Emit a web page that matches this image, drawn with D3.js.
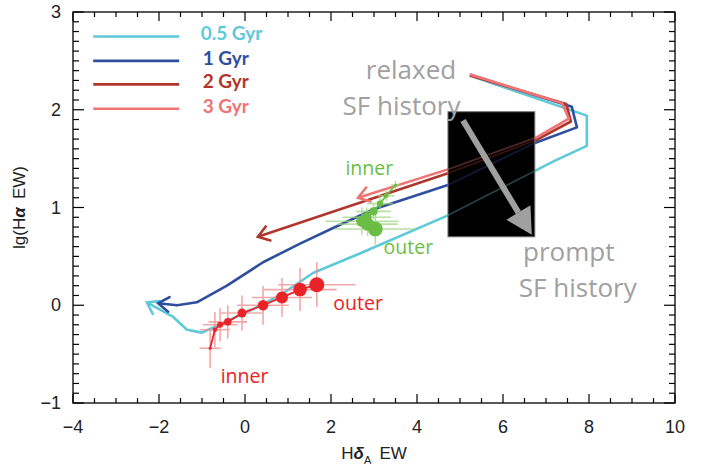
<!DOCTYPE html>
<html>
<head>
<meta charset="utf-8">
<script src="https://cdn.jsdelivr.net/npm/d3@7"></script>
<style>
  body { margin: 0; background: #fff; }
  svg { display: block; }
</style>
</head>
<body>
<div id="chart-area"></div>
<script>
// model tracks: [HdA EW, lg(Ha EW)], start at top right, end at the arrow
const track05 = [[5.23, 2.35], [7.95, 1.94], [7.95, 1.63], [7.21, 1.48], [4.72, 0.92], [2.67, 0.53],
  [1.58, 0.33], [0.81, 0.10], [0.05, -0.07], [-0.51, -0.18], [-1.0, -0.28], [-1.35, -0.25],
  [-1.67, -0.12], [-2.28, 0.03]]
const track1 = [[5.23, 2.36], [7.60, 2.03], [7.72, 1.82], [6.74, 1.66], [4.72, 1.23], [2.98, 0.98],
  [2.05, 0.79], [1.28, 0.63], [0.42, 0.44], [-0.42, 0.20], [-1.12, 0.03], [-1.58, 0.0], [-2.02, 0.02]]
const track2 = [[5.23, 2.35], [7.47, 2.06], [7.58, 1.88], [6.77, 1.69], [4.72, 1.35], [0.30, 0.70]]
const track3 = [[5.23, 2.36], [7.37, 2.07], [7.53, 1.91], [6.79, 1.72], [4.72, 1.39], [2.63, 1.10]]

const legendNames = ["0.5 Gyr", "1 Gyr", "2 Gyr", "3 Gyr"]

// green galaxy, inner -> outer
const greenX = [3.50, 3.28, 3.14, 2.99, 2.83, 2.72, 2.85, 3.03]
const greenY = [1.23, 1.12, 1.04, 0.96, 0.90, 0.86, 0.83, 0.78]
const greenXErr = [0.1, 0.2, 0.3, 0.4, 0.56, 0.85, 0.7, 0.95]
const greenYErr = [0.04, 0.05, 0.06, 0.08, 0.1, 0.14, 0.12, 0.16]

// red galaxy, inner -> outer
const redX = [-0.81, -0.70, -0.58, -0.40, -0.07, 0.42, 0.86, 1.28, 1.67]
const redY = [-0.44, -0.25, -0.20, -0.17, -0.08, 0.00, 0.08, 0.16, 0.21]
const redXErr = [0.25, 0.35, 0.4, 0.45, 0.5, 0.6, 0.7, 0.85, 0.9]
const redYErr = [0.2, 0.18, 0.17, 0.17, 0.18, 0.2, 0.2, 0.22, 0.23]

// blacked-out box and gray arrow (data coords)
const boxX = [4.72, 6.74], boxY = [0.70, 1.98]
const sfArrow = [[5.07, 1.89], [6.67, 0.72]]

const xTicks = [-4, -2, 0, 2, 4, 6, 8, 10]
const yTicks = [-1, 0, 1, 2, 3]

const colors = ["#5ec9d9", "#2f4e9e", "#b0362d", "#ef7474"]
const tracks = [track05, track1, track2, track3]

const margin = { top: 12, right: 27, bottom: 66, left: 73 }
const width = 702 - margin.left - margin.right,
      height = 469 - margin.top - margin.bottom

const svg = d3.select("#chart-area").append("svg")
    .attr("width", 702)
    .attr("height", 469)
const g = svg.append("g")
    .attr("transform", "translate(" + margin.left + "," + margin.top + ")")

const x = d3.scaleLinear().domain([-4, 10]).range([0, width])
const y = d3.scaleLinear().domain([-1, 3]).range([height, 0])

const line = d3.line().x(d => x(d[0])).y(d => y(d[1]))

g.append("clipPath").attr("id", "plot-clip")
  .append("rect").attr("width", width).attr("height", height)

const plot = g.append("g").attr("clip-path", "url(#plot-clip)")

// open chevron at the end of a track
function chevron(pts) {
    const a = pts[pts.length - 2], b = pts[pts.length - 1]
    const bx = x(b[0]), by = y(b[1])
    const ang = Math.atan2(y(a[1]) - by, x(a[0]) - bx)
    const L = 13, s = 0.6
    return "M" + (bx + L * Math.cos(ang + s)) + "," + (by + L * Math.sin(ang + s)) +
        "L" + bx + "," + by +
        "L" + (bx + L * Math.cos(ang - s)) + "," + (by + L * Math.sin(ang - s))
}

tracks.forEach(function(t, i) {
    plot.append("path")
        .attr("d", line(t))
        .attr("fill", "none")
        .attr("stroke", colors[i])
        .attr("stroke-width", 2.6)
        .attr("stroke-linejoin", "round")
    plot.append("path")
        .attr("d", chevron(t))
        .attr("fill", "none")
        .attr("stroke", colors[i])
        .attr("stroke-width", 2.6)
        .attr("stroke-linecap", "round")
})

// error bars + points
function galaxy(xs, ys, xe, ye, col, barCol, rmax) {
    const pts = xs.map((v, i) => [v, ys[i]])
    const r = d3.scaleLinear().domain([0, xs.length - 1]).range([1.5, rmax])
    const eb = plot.append("g").attr("stroke", barCol).attr("stroke-width", 1.6).attr("opacity", 0.75)
    pts.forEach(function(p, i) {
        eb.append("line")
            .attr("x1", x(p[0] - xe[i])).attr("x2", x(p[0] + xe[i]))
            .attr("y1", y(p[1])).attr("y2", y(p[1]))
        eb.append("line")
            .attr("x1", x(p[0])).attr("x2", x(p[0]))
            .attr("y1", y(p[1] - ye[i])).attr("y2", y(p[1] + ye[i]))
    })
    plot.append("path")
        .attr("d", line(pts))
        .attr("fill", "none")
        .attr("stroke", col)
        .attr("stroke-width", 1.8)
    plot.selectAll(null)
        .data(pts)
        .enter()
        .append("circle")
            .attr("cx", d => x(d[0]))
            .attr("cy", d => y(d[1]))
            .attr("r", (d, i) => r(i))
            .attr("fill", col)
}
galaxy(greenX, greenY, greenXErr, greenYErr, "#6cbd45", "#9fd585", 7.5)
galaxy(redX, redY, redXErr, redYErr, "#ea2328", "#f08c8c", 7.5)

// black box with faint tracks showing through
plot.append("rect")
    .attr("x", x(boxX[0]))
    .attr("y", y(boxY[1]))
    .attr("width", x(boxX[1]) - x(boxX[0]))
    .attr("height", y(boxY[0]) - y(boxY[1]))
    .attr("fill", "#000")
    .attr("stroke", "#777")
    .attr("stroke-width", 1)

g.append("clipPath").attr("id", "box-clip")
  .append("rect")
    .attr("x", x(boxX[0]))
    .attr("y", y(boxY[1]))
    .attr("width", x(boxX[1]) - x(boxX[0]))
    .attr("height", y(boxY[0]) - y(boxY[1]))
const ghost = g.append("g").attr("clip-path", "url(#box-clip)")
tracks.forEach(function(t, i) {
    ghost.append("path")
        .attr("d", line(t))
        .attr("fill", "none")
        .attr("stroke", colors[i])
        .attr("stroke-width", 1.6)
        .attr("opacity", 0.35)
})

// gray arrow: relaxed -> prompt
const ax0 = x(sfArrow[0][0]), ay0 = y(sfArrow[0][1]),
      ax1 = x(sfArrow[1][0]), ay1 = y(sfArrow[1][1])
const aang = Math.atan2(ay1 - ay0, ax1 - ax0)
const headL = 26, headW = 14
const hx = ax1 - headL * Math.cos(aang), hy = ay1 - headL * Math.sin(aang)
g.append("line")
    .attr("x1", ax0).attr("y1", ay0).attr("x2", hx).attr("y2", hy)
    .attr("stroke", "#a0a0a0").attr("stroke-width", 6)
g.append("path")
    .attr("d", "M" + ax1 + "," + ay1 +
        "L" + (hx + headW * Math.sin(aang)) + "," + (hy - headW * Math.cos(aang)) +
        "L" + (hx - headW * Math.sin(aang)) + "," + (hy + headW * Math.cos(aang)) + "Z")
    .attr("fill", "#a0a0a0")

// frame and ticks on all four sides
g.append("rect")
    .attr("width", width).attr("height", height)
    .attr("fill", "none").attr("stroke", "#000").attr("stroke-width", 1.3)

const xMinor = d3.range(-4, 10.01, 0.5), yMinor = d3.range(-1, 3.001, 0.1)
const tk = g.append("g").attr("stroke", "#000").attr("stroke-width", 1.2)
xMinor.forEach(function(v) {
    const L = Math.abs(v / 2 - Math.round(v / 2)) < 1e-6 ? 9 : 5
    tk.append("line").attr("x1", x(v)).attr("x2", x(v)).attr("y1", height).attr("y2", height - L)
    tk.append("line").attr("x1", x(v)).attr("x2", x(v)).attr("y1", 0).attr("y2", L)
})
yMinor.forEach(function(v) {
    const L = Math.abs(v - Math.round(v)) < 1e-6 ? 11 : 6
    tk.append("line").attr("y1", y(v)).attr("y2", y(v)).attr("x1", 0).attr("x2", L)
    tk.append("line").attr("y1", y(v)).attr("y2", y(v)).attr("x1", width).attr("x2", width - L)
})

const tickFont = "'Liberation Sans', 'DejaVu Sans', sans-serif"
g.selectAll(".xlab").data(xTicks).enter().append("text")
    .attr("class", "xlab")
    .attr("x", d => x(d))
    .attr("y", height + 30)
    .attr("text-anchor", "middle")
    .attr("font-family", tickFont)
    .attr("font-size", "18px")
    .attr("fill", "#222")
    .text(d => d < 0 ? "\u2212" + Math.abs(d) : d)
g.selectAll(".ylab").data(yTicks).enter().append("text")
    .attr("class", "ylab")
    .attr("x", -12)
    .attr("y", d => y(d) + 6)
    .attr("text-anchor", "end")
    .attr("font-family", tickFont)
    .attr("font-size", "18px")
    .attr("fill", "#222")
    .text(d => d < 0 ? "\u2212" + Math.abs(d) : d)

// axis titles
const xt = g.append("text")
    .attr("x", width / 2)
    .attr("y", height + 56)
    .attr("text-anchor", "middle")
    .attr("font-family", tickFont)
    .attr("font-size", "17px")
    .attr("fill", "#222")
xt.append("tspan").text("H")
xt.append("tspan").attr("font-weight", "bold").attr("font-style", "italic").text("\u03b4")
xt.append("tspan").attr("font-size", "11px").attr("dy", 5).text("A")
xt.append("tspan").attr("dy", -5).text("\u2009 EW")

const yt = g.append("text")
    .attr("transform", "rotate(-90)")
    .attr("x", -y(1.0))
    .attr("y", -48)
    .attr("text-anchor", "middle")
    .attr("font-family", tickFont)
    .attr("font-size", "17px")
    .attr("fill", "#222")
yt.append("tspan").text("lg(H")
yt.append("tspan").attr("font-weight", "bold").attr("font-style", "italic").text("\u03b1")
yt.append("tspan").text("\u2009 EW)")

// legend
const legY = [2.75, 2.5, 2.26, 2.01]
legendNames.forEach(function(name, i) {
    g.append("line")
        .attr("x1", x(-3.53)).attr("x2", x(-1.53))
        .attr("y1", y(legY[i])).attr("y2", y(legY[i]))
        .attr("stroke", colors[i]).attr("stroke-width", 2.6)
    g.append("text")
        .attr("x", x(-1.03) + (name.length < 6 ? 2 : 0))
        .attr("y", y(legY[i]) + 4)
        .attr("font-family", "Lato, sans-serif")
        .attr("font-weight", "bold")
        .attr("font-size", "19px")
        .attr("fill", colors[i])
        .text(name)
})

// annotations
const labFont = "'Open Sans', 'Noto Sans', sans-serif"
function note(txt, px, py, col, size) {
    g.append("text")
        .attr("x", x(px)).attr("y", y(py))
        .attr("text-anchor", "middle")
        .attr("font-family", labFont)
        .attr("font-size", size)
        .attr("fill", col)
        .text(txt)
}
note("relaxed", 3.86, 2.31, "#a0a0a0", "26px")
note("SF history", 3.64, 1.95, "#a0a0a0", "26px")
note("prompt", 7.53, 0.45, "#a0a0a0", "26px")
note("SF history", 7.74, 0.08, "#a0a0a0", "26px")
note("inner", 2.89, 1.33, "#6cbd45", "19.5px")
note("outer", 3.8, 0.52, "#6cbd45", "19.5px")
note("outer", 2.63, -0.05, "#ea2328", "19.5px")
note("inner", -0.01, -0.80, "#ea2328", "19.5px")
</script>
</body>
</html>
